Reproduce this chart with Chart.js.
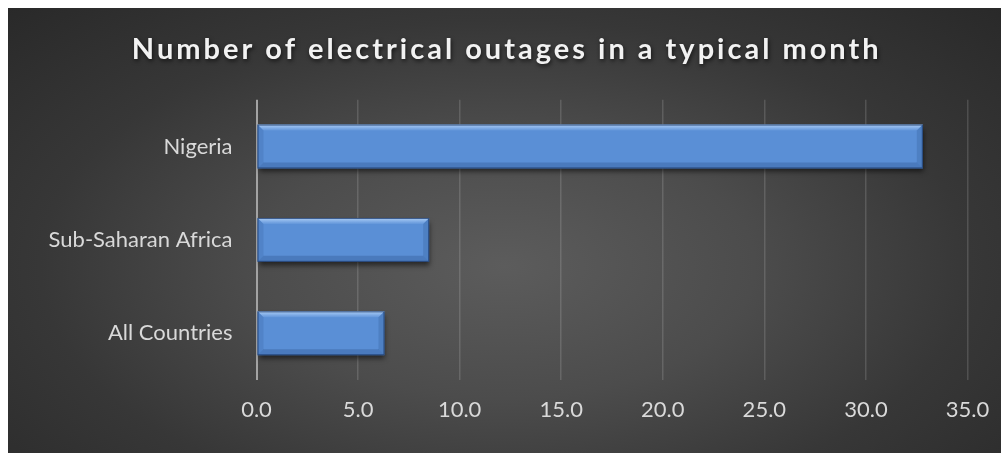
<!DOCTYPE html>
<html>
<head>
<meta charset="utf-8">
<script src="https://cdn.jsdelivr.net/npm/chart.js@4.4.1/dist/chart.umd.min.js"></script>
<style>
  html, body { margin: 0; padding: 0; background: #ffffff; }
  #wrap {
    position: absolute; left: 8px; top: 8px; width: 993px; height: 445px;
    background: radial-gradient(ellipse 72% 85% at 50% 58%, #5c5c5c 0%, #4c4c4c 35%, #373737 65%, #282828 100%);
  }
  canvas { display: block; }
</style>
</head>
<body>
<div id="wrap"><canvas id="c" width="993" height="445"></canvas></div>
<script>
const chartTitle = 'Number of electrical outages in a typical month';
const categories = ['Nigeria', 'Sub-Saharan Africa', 'All Countries'];
const outages = [32.8, 8.5, 6.3];
const xTickMin = 0, xTickMax = 35, xTickStep = 5;

const bevelPlugin = {
  id: 'bevel',
  beforeDraw(chart) {
    const tb = chart.titleBlock;
    if (tb && !tb._patched) {
      const orig = tb.draw.bind(tb);
      tb.draw = function () {
        const c = chart.ctx;
        c.save();
        c.translate(19, 0);
        c.letterSpacing = '3px';
        c.shadowColor = 'rgba(0,0,0,0.65)';
        c.shadowBlur = 4;
        c.shadowOffsetX = 1;
        c.shadowOffsetY = 2;
        orig();
        c.restore();
      };
      tb._patched = true;
    }
  },
  beforeDatasetsDraw(chart) {
    const c = chart.ctx;
    c.save();
    c.shadowColor = 'rgba(0,0,0,0.55)';
    c.shadowBlur = 5;
    c.shadowOffsetX = 1;
    c.shadowOffsetY = 4;
  },
  afterDatasetsDraw(chart) {
    const c = chart.ctx;
    c.restore();
    const meta = chart.getDatasetMeta(0);
    meta.data.forEach(bar => {
      const left = Math.min(bar.base, bar.x), right = Math.max(bar.base, bar.x);
      const top = bar.y - bar.height / 2, bottom = bar.y + bar.height / 2;
      const b = 6;
      c.save();
      let g = c.createLinearGradient(0, top, 0, top + b);
      g.addColorStop(0, 'rgba(210,232,255,0.7)');
      g.addColorStop(0.5, 'rgba(190,220,255,0.45)');
      g.addColorStop(1, 'rgba(170,205,250,0.12)');
      c.fillStyle = g;
      c.beginPath();
      c.moveTo(left, top); c.lineTo(right, top); c.lineTo(right - b, top + b); c.lineTo(left + b, top + b); c.closePath();
      c.fill();
      c.fillStyle = 'rgba(20,50,100,0.22)';
      c.beginPath();
      c.moveTo(left, bottom); c.lineTo(right, bottom); c.lineTo(right - b, bottom - b); c.lineTo(left + b, bottom - b); c.closePath();
      c.fill();
      c.fillStyle = 'rgba(20,50,100,0.12)';
      c.beginPath();
      c.moveTo(left, top); c.lineTo(left + b, top + b); c.lineTo(left + b, bottom - b); c.lineTo(left, bottom); c.closePath();
      c.fill();
      c.fillStyle = 'rgba(20,50,100,0.16)';
      c.beginPath();
      c.moveTo(right, top); c.lineTo(right - b, top + b); c.lineTo(right - b, bottom - b); c.lineTo(right, bottom); c.closePath();
      c.fill();
      c.strokeStyle = 'rgba(30,60,110,0.8)';
      c.lineWidth = 1;
      c.strokeRect(left + 0.5, top + 0.5, right - left - 1, bottom - top - 1);
      c.restore();
    });
  }
};

function barFill(ctx) {
  const chart = ctx.chart;
  const el = ctx.element;
  if (!el || el.height == null) return '#5a8fd6';
  const top = el.y - el.height / 2, bottom = el.y + el.height / 2;
  const g = chart.ctx.createLinearGradient(0, top, 0, bottom);
  g.addColorStop(0, '#8bbaf0');
  g.addColorStop(0.12, '#78a9ea');
  g.addColorStop(0.2, '#6398de');
  g.addColorStop(0.8, '#5086cf');
  g.addColorStop(1, '#4474ba');
  return g;
}

new Chart(document.getElementById('c'), {
  type: 'bar',
  data: {
    labels: categories,
    datasets: [{
      data: outages,
      backgroundColor: barFill,
      borderWidth: 0,
      barPercentage: 0.47,
      categoryPercentage: 1.0
    }]
  },
  plugins: [bevelPlugin],
  options: {
    indexAxis: 'y',
    responsive: false,
    animation: false,
    layout: { padding: { left: 0, right: 33.5, top: 0, bottom: 0 } },
    plugins: {
      legend: { display: false },
      tooltip: { enabled: false },
      title: {
        display: true,
        text: chartTitle,
        color: '#f2f2f2',
        font: { family: 'Lato', size: 29, weight: 'bold' },
        padding: { top: 24, bottom: 33 }
      }
    },
    scales: {
      x: {
        min: xTickMin, max: xTickMax,
        border: { display: false },
        grid: {
          drawTicks: false,
          color: c => c.index === 0 ? '#a3a3a3' : 'rgba(255,255,255,0.14)',
          lineWidth: c => c.index === 0 ? 2 : 1.5
        },
        ticks: {
          stepSize: xTickStep,
          padding: 17,
          color: '#d9d9d9',
          font: { family: 'Lato', size: 22 },
          callback: v => Number(v).toFixed(1)
        },
        afterFit(s) { s.height = 73; s.paddingRight = 0; s.paddingLeft = 0; }
      },
      y: {
        border: { display: false },
        grid: { display: false, drawTicks: false },
        ticks: {
          padding: 24,
          color: '#d9d9d9',
          font: { family: 'Lato', size: 22 }
        },
        afterFit(s) { s.width = 248.5; }
      }
    }
  }
});
</script>
</body>
</html>
